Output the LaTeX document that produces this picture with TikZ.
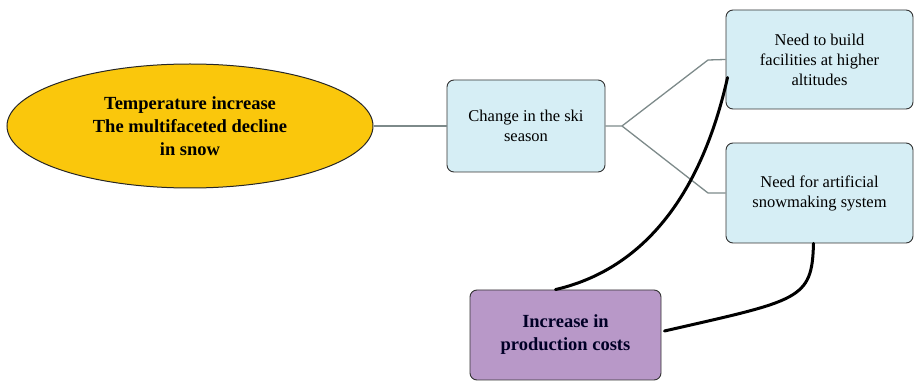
\documentclass[tikz,border=0pt]{standalone}
\usepackage{fontspec}
\setmainfont{Liberation Serif}
\usetikzlibrary{shapes.geometric}
\definecolor{gold}{RGB}{250,199,12}
\definecolor{lightblue}{RGB}{214,238,245}
\definecolor{lilac}{RGB}{184,152,200}
\definecolor{linegray}{RGB}{125,138,138}
\begin{document}
\begin{tikzpicture}[x=1pt,y=-1pt,
  lightbox/.style={draw=black!80, line width=0.9pt, fill=lightblue, rounded corners=7pt, align=center, inner sep=0pt, font=\fontsize{16.5}{20}\selectfont},
  conn/.style={draw=linegray, line width=1.3pt},
  blackconn/.style={draw=black, line width=3pt, line cap=round}]
\useasboundingbox (0,0) rectangle (914,382);
\node[ellipse, draw=black!85, line width=1pt, fill=gold, minimum width=366pt, minimum height=124pt, inner sep=0pt, align=center, font=\bfseries\fontsize{18.5}{23}\selectfont] (temp) at (190,126) {Temperature increase\\The multifaceted decline\\in snow};
\node[lightbox, minimum width=158pt, minimum height=92pt] (change) at (526,126) {Change in the ski\\season};
\node[lightbox, minimum width=187pt, minimum height=99pt] (build) at (819.5,59.5) {Need to build\\facilities at higher\\altitudes};
\node[lightbox, minimum width=187pt, minimum height=100pt] (snow) at (819.5,193) {Need for artificial\\snowmaking system};
\node[draw=black!80, line width=0.9pt, fill=lilac, rounded corners=7pt, minimum width=191pt, minimum height=90pt, align=center, inner sep=0pt, font=\bfseries\fontsize{18.5}{23}\selectfont, text=black!85!blue] (cost) at (565.5,335) {Increase in\\production costs};
\coordinate (fork) at (622,126);
\draw[conn] (temp.east) -- (change.west);
\draw[conn] (change.east) -- (fork) -- (708,60) -- (build.west);
\draw[conn] (fork) -- (708,193) -- (snow.west);
\draw[blackconn] (cost.north) ++(-10,0) .. controls (640,270) and (700,200) .. ([xshift=2pt,yshift=-18pt]build.west);
\draw[blackconn] ([xshift=-6pt]snow.south) .. controls (812,300) and (800,300) .. ([xshift=3pt,yshift=4pt]cost.east);
\end{tikzpicture}
\end{document}
